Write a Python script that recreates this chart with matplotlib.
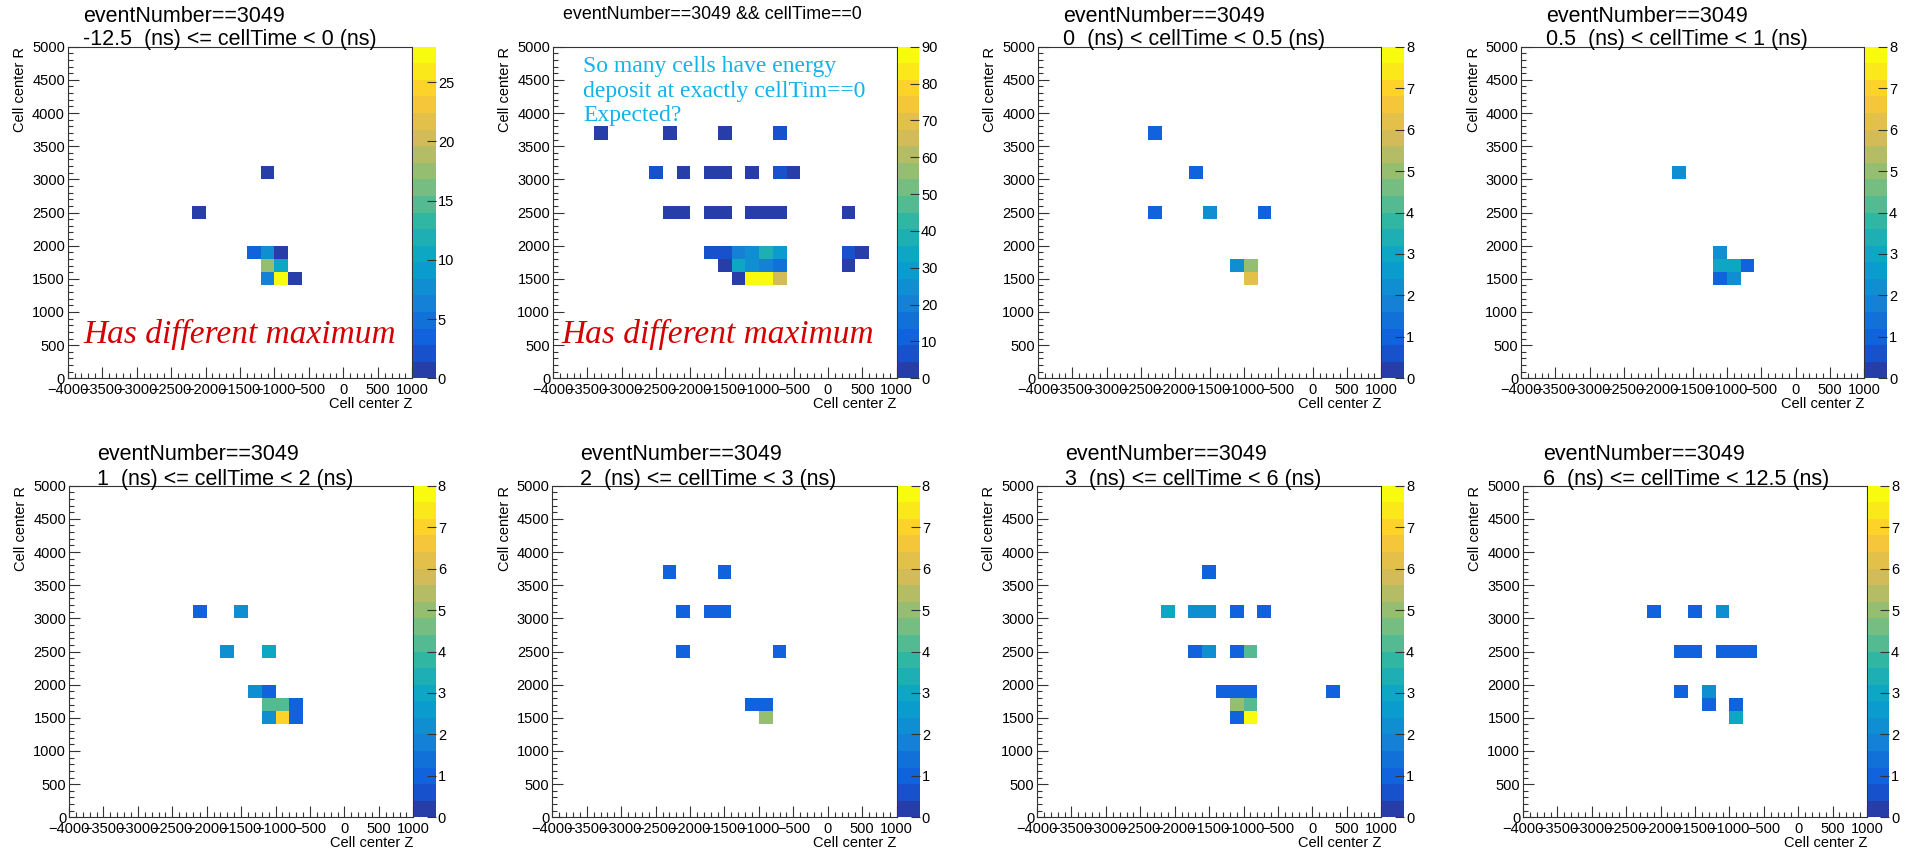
import numpy as np
import matplotlib
matplotlib.use('Agg')
import matplotlib.pyplot as plt
from matplotlib.colors import LinearSegmentedColormap, ListedColormap, BoundaryNorm
from matplotlib.ticker import MultipleLocator

plt.rcParams['font.family'] = ['Liberation Sans', 'DejaVu Sans']

# ---------------- data (bin centres in Z, R and bin content) ----------------
z_edges = np.arange(-4000, 1001, 200)
r_edges = np.arange(0, 5001, 200)

p1_z = [-1100, -2100, -1300, -1100, -900, -1100, -900, -1100, -900, -700]
p1_r = [3100, 2500, 1900, 1900, 1900, 1700, 1700, 1500, 1500, 1500]
p1_v = [1, 1, 3.5, 7.7, 1, 17.5, 10.5, 6.3, 28, 1]

p2_z = [-3300, -2300, -1500, -700,
        -2500, -2100, -1700, -1500, -1100, -700, -500,
        -2300, -2100, -1700, -1500, -1100, -900, -700, 300,
        -1700, -1500, -1300, -1100, -900, -700, 300, 500,
        -1500, -1300, -1100, -900, -700, 300,
        -1300, -1100, -900, -700]
p2_r = [3700, 3700, 3700, 3700,
        3100, 3100, 3100, 3100, 3100, 3100, 3100,
        2500, 2500, 2500, 2500, 2500, 2500, 2500, 2500,
        1900, 1900, 1900, 1900, 1900, 1900, 1900, 1900,
        1700, 1700, 1700, 1700, 1700, 1700,
        1500, 1500, 1500, 1500]
p2_v = [2, 2, 2, 7,
        7, 2, 2, 2, 2, 7, 2,
        2, 2, 2, 2, 2, 2, 2, 2,
        7, 7, 20, 25, 38, 29, 7, 2,
        2, 33, 25, 20, 16, 2,
        2, 90, 88, 65]

p3_z = [-2300, -1700, -2300, -1500, -700, -1100, -900, -900]
p3_r = [3700, 3100, 2500, 2500, 2500, 1700, 1700, 1500]
p3_v = [1, 1, 1, 2, 1, 2, 5, 6]

p4_z = [-1700, -1100, -1100, -900, -700, -1100, -900]
p4_r = [3100, 1900, 1700, 1700, 1700, 1500, 1500]
p4_v = [2, 2, 3, 3, 1, 1, 2]

p5_z = [-2100, -1500, -1700, -1100, -1300, -1100, -1100, -900, -700, -1100, -900, -700]
p5_r = [3100, 3100, 2500, 2500, 1900, 1900, 1700, 1700, 1700, 1500, 1500, 1500]
p5_v = [1, 2, 2, 3, 2, 1, 4, 4, 1, 2, 7, 1]

p6_z = [-2300, -1500, -2100, -1700, -1500, -2100, -700, -1100, -900, -900]
p6_r = [3700, 3700, 3100, 3100, 3100, 2500, 2500, 1700, 1700, 1500]
p6_v = [1, 1, 1, 1, 1, 1, 1, 1, 1, 5]

p7_z = [-1500, -2100, -1700, -1500, -1100, -700, -1700, -1500, -1100, -900,
        -1300, -1100, -900, 300, -1100, -900, -1100, -900]
p7_r = [3700, 3100, 3100, 3100, 3100, 3100, 2500, 2500, 2500, 2500,
        1900, 1900, 1900, 1900, 1700, 1700, 1500, 1500]
p7_v = [1, 3, 2, 2, 1, 1, 1, 2, 1, 4, 1, 1, 1, 1, 5, 4, 1, 8]

p8_z = [-2100, -1500, -1100, -1700, -1500, -1100, -900, -700, -1700, -1300, -1300, -900, -900]
p8_r = [3100, 3100, 3100, 2500, 2500, 2500, 2500, 2500, 1900, 1900, 1700, 1700, 1500]
p8_v = [1, 1, 2, 1, 1, 1, 1, 1, 1, 2, 1, 1, 3]

z_max = [28, 90, 8, 8, 8, 8, 8, 8]
cbar_ticks = [[0, 5, 10, 15, 20, 25],
              [0, 10, 20, 30, 40, 50, 60, 70, 80, 90],
              list(range(9)), list(range(9)), list(range(9)),
              list(range(9)), list(range(9)), list(range(9))]

title_line1 = ["eventNumber==3049", "eventNumber==3049 && cellTime==0",
               "eventNumber==3049", "eventNumber==3049",
               "eventNumber==3049", "eventNumber==3049",
               "eventNumber==3049", "eventNumber==3049"]
title_line2 = ["-12.5  (ns) <= cellTime < 0 (ns)", None,
               "0  (ns) < cellTime < 0.5 (ns)", "0.5  (ns) < cellTime < 1 (ns)",
               "1  (ns) <= cellTime < 2 (ns)", "2  (ns) <= cellTime < 3 (ns)",
               "3  (ns) <= cellTime < 6 (ns)", "6  (ns) <= cellTime < 12.5 (ns)"]

panels = [(p1_z, p1_r, p1_v), (p2_z, p2_r, p2_v), (p3_z, p3_r, p3_v), (p4_z, p4_r, p4_v),
          (p5_z, p5_r, p5_v), (p6_z, p6_r, p6_v), (p7_z, p7_r, p7_v), (p8_z, p8_r, p8_v)]

# ---------------- ROOT kBird palette ----------------
stops = [0.0, 0.125, 0.25, 0.375, 0.5, 0.625, 0.75, 0.875, 1.0]
red = [0.2082, 0.0592, 0.0780, 0.0232, 0.1802, 0.5301, 0.8186, 0.9956, 0.9764]
green = [0.1664, 0.3599, 0.5041, 0.6419, 0.7178, 0.7492, 0.7328, 0.7862, 0.9832]
blue = [0.5293, 0.8684, 0.8385, 0.7914, 0.6425, 0.4662, 0.3499, 0.1968, 0.0539]
bird = LinearSegmentedColormap.from_list('bird', list(zip(stops, zip(red, green, blue))))
ncont = 20
level_colors = [bird(int((i + 0.99) * 255 / ncont) / 254.0) for i in range(ncont)]
cmap = ListedColormap(level_colors)

# ---------------- layout (pixels) ----------------
W, H = 1915, 851
fig = plt.figure(figsize=(W / 100, H / 100), dpi=100)
fig.patch.set_facecolor('white')

def fx(x):
    return x / W

def fy(y):
    return 1 - y / H

rows = [(46.7, 378.3), (485.7, 817.3)]
plot_lr = [(67.7, 412.3), (553.0, 896.7), (1038.0, 1381.3), (1521.0, 1864.3),
           (69.0, 413.3), (552.3, 896.7), (1037.0, 1381.3), (1523.0, 1867.0)]
cbar_r = [435.7, 919.0, 1404.0, 1887.0, 435.7, 919.7, 1404.0, 1889.0]
title_x = [83, 712, 1063, 1546, 97, 580, 1065, 1543]
title_y = [(22, 45), (19, None), (22, 45), (22, 45), (460, 485), (460, 485), (460, 485), (460, 485)]

tick_fs = 10.5

for k, (zs, rs, vs) in enumerate(panels):
    top, bot = rows[k // 4]
    left, right = plot_lr[k]
    ax = fig.add_axes([fx(left), fy(bot), fx(right - left), (bot - top) / H])
    hist, _, _ = np.histogram2d(zs, rs, bins=[z_edges, r_edges], weights=vs)
    hm = np.ma.masked_where(hist <= 0, hist)
    norm = BoundaryNorm(np.linspace(0, z_max[k], ncont + 1), ncont, clip=True)
    mesh = ax.pcolormesh(z_edges, r_edges, hm.T, cmap=cmap, norm=norm)
    ax.set_xlim(-4000, 1000)
    ax.set_ylim(0, 5000)
    ax.xaxis.set_major_locator(MultipleLocator(500))
    ax.xaxis.set_minor_locator(MultipleLocator(100))
    ax.yaxis.set_major_locator(MultipleLocator(500))
    ax.yaxis.set_minor_locator(MultipleLocator(100))
    ax.tick_params(which='both', direction='in', top=False, right=False, width=0.8, color='#333333')
    ax.tick_params(which='major', length=7.6, labelsize=tick_fs)
    ax.tick_params(which='minor', length=3.8)
    ax.tick_params(axis='x', pad=3.5)
    ax.tick_params(axis='y', pad=2.0)
    for s in ax.spines.values():
        s.set_linewidth(0.8)
        s.set_color('#333333')

    # axis titles
    fig.text(fx(right), fy(bot + 26), 'Cell center Z', ha='right', va='center', fontsize=tick_fs)
    fig.text(fx(left - 47.5), fy(top), 'Cell center R', ha='center', va='top',
             rotation=90, fontsize=tick_fs)

    # colour bar
    cax = fig.add_axes([fx(right + 1), fy(bot), fx(cbar_r[k] - right - 1), (bot - top) / H])
    cb = fig.colorbar(mesh, cax=cax, ticks=cbar_ticks[k])
    cb.outline.set_visible(False)
    cax.set_ylim(0, z_max[k])
    cax.minorticks_off()
    cax.tick_params(direction='in', length=6.5, width=0.8, color='#333333',
                    labelsize=tick_fs, pad=1.5)

    # titles
    y1, y2 = title_y[k]
    if title_line2[k] is None:
        fig.text(fx(title_x[k]), fy(y1), title_line1[k], ha='center', va='baseline', fontsize=12.9)
    else:
        fig.text(fx(title_x[k]), fy(y1), title_line1[k], ha='left', va='baseline', fontsize=15.5)
        fig.text(fx(title_x[k]), fy(y2), title_line2[k], ha='left', va='baseline', fontsize=15.5)

# annotations
for x0 in (83, 561):
    fig.text(fx(x0), fy(343), 'Has different maximum', ha='left', va='baseline',
             fontsize=24, color='#d40000', style='italic', family='Liberation Serif')

cyan_lines = ['So many cells have energy', 'deposit at exactly cellTim==0', 'Expected?']
for i, line in enumerate(cyan_lines):
    fig.text(fx(583), fy(72 + 24.5 * i), line, ha='left', va='baseline',
             fontsize=17, color='#12b2ea', family='Liberation Serif')

fig.savefig('out.png', dpi=100, facecolor='white')
